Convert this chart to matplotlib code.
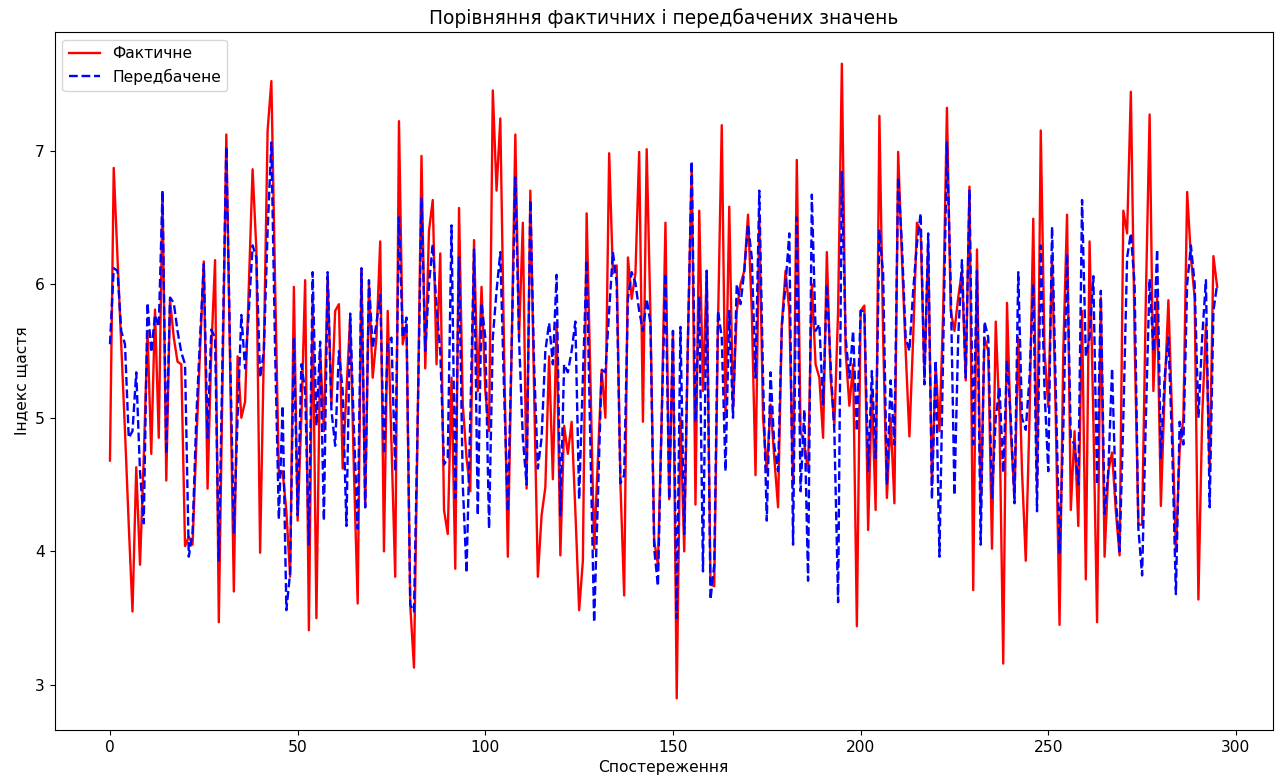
import matplotlib
matplotlib.use("Agg")
import matplotlib.pyplot as plt
import numpy as np

actual = [
    4.68, 6.87, 6.20, 5.55, 4.90, 4.20, 3.55, 4.63, 3.90, 4.70,
    5.65, 4.73, 5.81, 4.85, 6.69, 4.53, 5.88, 5.60, 5.42, 5.40,
    4.04, 4.11, 4.05, 4.80, 5.50, 6.17, 4.47, 5.50, 6.18, 3.47,
    5.30, 7.12, 5.40, 3.70, 5.46, 5.00, 5.12, 6.00, 6.86, 6.26,
    3.99, 5.50, 7.15, 7.52, 6.00, 4.57, 4.60, 4.30, 3.81, 5.98,
    4.23, 5.00, 6.03, 3.41, 5.90, 3.50, 5.50, 4.90, 6.05, 5.10,
    5.80, 5.85, 4.62, 5.20, 5.75, 4.60, 3.61, 6.10, 4.33, 6.00,
    5.30, 5.60, 6.32, 4.00, 5.80, 4.80, 3.81, 7.22, 5.55, 5.70,
    3.60, 3.13, 5.00, 6.96, 5.37, 6.40, 6.63, 5.40, 6.23, 4.31,
    4.13, 5.30, 3.87, 6.57, 5.10, 4.70, 4.45, 6.33, 5.20, 5.98,
    5.20, 4.90, 7.45, 6.70, 7.24, 5.50, 3.96, 5.50, 7.12, 5.60,
    6.46, 4.47, 6.70, 5.20, 3.81, 4.27, 4.48, 5.46, 4.54, 5.71,
    3.97, 4.94, 4.73, 4.97, 4.30, 3.56, 3.93, 6.53, 5.30, 4.02,
    4.70, 5.36, 5.00, 6.98, 6.08, 6.14, 4.51, 3.67, 6.20, 5.89,
    6.08, 6.99, 4.97, 7.01, 5.77, 4.08, 3.90, 5.00, 6.46, 4.39,
    5.65, 2.90, 5.00, 4.00, 5.60, 6.90, 4.35, 6.55, 5.20, 6.10,
    3.75, 3.74, 5.70, 7.19, 5.00, 6.58, 5.06, 5.80, 6.00, 6.10,
    6.52, 5.80, 4.57, 6.50, 5.00, 4.60, 5.10, 4.70, 4.33, 5.70,
    6.10, 5.80, 4.50, 6.93, 4.90, 4.80, 4.60, 6.00, 5.40, 5.30,
    4.85, 6.24, 5.30, 4.94, 5.80, 7.65, 5.50, 5.09, 5.40, 3.44,
    5.80, 5.84, 4.16, 5.20, 4.31, 7.26, 5.60, 4.40, 5.00, 4.36,
    6.99, 6.20, 5.50, 4.86, 5.60, 6.46, 6.40, 5.30, 6.30, 4.50,
    5.40, 4.90, 5.80, 7.32, 5.80, 5.65, 5.90, 6.10, 5.28, 6.73,
    3.71, 6.26, 4.30, 5.60, 5.50, 4.02, 5.72, 5.00, 3.16, 5.86,
    4.90, 4.40, 5.60, 4.60, 3.93, 5.00, 6.49, 4.50, 7.15, 5.50,
    5.08, 6.20, 5.00, 3.45, 5.50, 6.52, 4.31, 4.90, 4.19, 5.80,
    3.79, 6.32, 5.00, 3.47, 5.90, 3.96, 4.60, 4.74, 4.30, 3.97,
    6.55, 6.38, 7.44, 5.60, 4.20, 4.20, 5.90, 7.27, 5.20, 5.90,
    4.34, 5.20, 5.88, 5.00, 4.00, 4.76, 5.00, 6.69, 6.20, 5.90,
    3.64, 5.00, 5.70, 4.60, 6.21, 5.98,
]

predicted = [
    5.55, 6.12, 6.10, 5.65, 5.55, 4.85, 4.90, 5.34, 4.60, 4.21,
    5.86, 5.49, 5.77, 5.68, 6.70, 4.73, 5.90, 5.86, 5.65, 5.49,
    5.40, 3.96, 4.14, 5.00, 5.60, 6.15, 4.85, 5.66, 5.60, 3.93,
    5.50, 7.03, 5.50, 4.14, 5.00, 5.77, 5.37, 5.80, 6.29, 6.20,
    5.30, 5.50, 6.40, 7.06, 5.50, 4.24, 5.09, 3.56, 3.84, 5.60,
    4.27, 5.40, 5.20, 4.05, 6.09, 4.94, 5.57, 4.23, 6.09, 5.06,
    4.79, 5.50, 5.20, 4.19, 5.78, 4.91, 4.17, 6.12, 4.33, 6.03,
    5.52, 5.71, 5.92, 4.73, 5.55, 5.60, 4.60, 6.50, 5.60, 5.75,
    3.60, 3.55, 5.00, 6.64, 5.50, 6.00, 6.30, 5.83, 5.50, 4.65,
    4.70, 6.44, 4.40, 6.20, 4.50, 3.84, 5.00, 6.26, 4.27, 5.86,
    5.60, 4.17, 5.60, 5.95, 6.24, 5.20, 4.30, 5.50, 6.80, 5.58,
    4.85, 4.50, 6.63, 5.40, 4.62, 4.85, 5.50, 5.71, 5.40, 6.07,
    4.27, 5.40, 5.34, 5.50, 5.72, 4.39, 5.30, 6.18, 4.80, 3.47,
    4.40, 5.36, 5.34, 5.80, 6.24, 6.01, 4.51, 4.57, 5.89, 6.09,
    6.01, 5.80, 5.65, 5.89, 5.71, 4.02, 3.74, 5.00, 6.08, 4.39,
    5.65, 3.50, 5.68, 4.13, 5.60, 6.92, 4.97, 5.90, 3.85, 6.10,
    3.64, 3.90, 5.80, 5.60, 4.60, 5.80, 5.00, 6.00, 5.85, 6.10,
    6.45, 6.20, 5.30, 6.70, 5.30, 4.23, 5.34, 4.79, 4.60, 5.68,
    6.00, 6.38, 4.05, 6.50, 4.45, 5.06, 3.78, 6.67, 5.65, 5.70,
    5.10, 6.00, 5.40, 4.90, 3.62, 6.84, 5.60, 5.30, 5.65, 4.90,
    5.80, 5.80, 4.60, 5.35, 4.70, 6.40, 6.08, 4.50, 5.28, 4.80,
    6.80, 6.30, 5.60, 5.50, 5.95, 6.30, 6.53, 5.25, 6.38, 4.39,
    5.43, 3.96, 5.50, 7.06, 6.00, 4.42, 5.60, 6.18, 5.30, 6.70,
    4.80, 6.10, 4.05, 5.72, 5.60, 4.40, 5.00, 5.23, 4.59, 5.43,
    5.00, 4.36, 6.09, 5.00, 4.91, 5.30, 6.00, 4.30, 6.29, 5.20,
    4.60, 6.43, 5.20, 3.99, 4.90, 6.23, 4.85, 4.80, 4.50, 6.63,
    5.46, 5.60, 6.06, 4.50, 5.95, 4.28, 4.60, 5.37, 4.40, 4.00,
    5.00, 6.20, 6.38, 6.00, 4.17, 3.82, 5.00, 6.04, 5.50, 6.26,
    4.70, 5.30, 5.60, 4.80, 3.68, 4.97, 4.80, 6.00, 6.29, 6.00,
    5.00, 5.60, 6.03, 4.33, 5.80, 6.00,
]

x = np.arange(len(actual))

plt.rcParams["font.size"] = 11.2

fig, ax = plt.subplots(figsize=(12.85, 7.8), dpi=100)
fig.subplots_adjust(left=0.0425, right=0.9903, top=0.959, bottom=0.064)

ax.plot(x, actual, color="red", linewidth=1.7, label="Фактичне")
ax.plot(x, predicted, color="blue", linestyle="--", linewidth=1.7, label="Передбачене")

ax.set_title("Порівняння фактичних і передбачених значень")
ax.set_xlabel("Спостереження")
ax.set_ylabel("Індекс щастя")
ax.legend(loc="upper left")

fig.savefig("out.png", dpi=100)
